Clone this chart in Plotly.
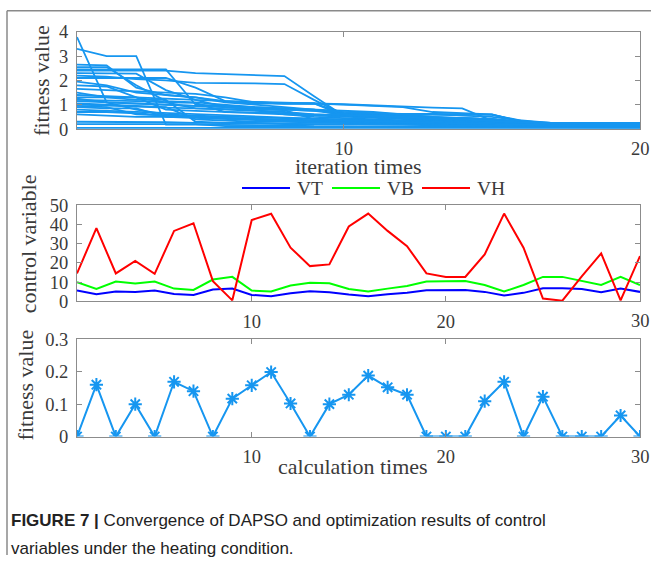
import plotly.graph_objects as go

W, H = 651, 565

# ---- convergence curves of the particle swarm (fitness vs. iteration) ----
iterations = list(range(1, 21))
swarm_curves = [
    [3.78, 1.10, 1.05, 1.00, 0.95, 0.90, 0.80, 0.60, 0.50, 0.45, 0.40, 0.35, 0.30, 0.30, 0.25, 0.20, 0.20, 0.15, 0.15, 0.15],
    [3.30, 3.00, 3.00, 0.18, 0.18, 0.18, 0.15, 0.15, 0.12, 0.12, 0.12, 0.10, 0.10, 0.10, 0.10, 0.10, 0.10, 0.10, 0.10, 0.10],
    [2.65, 2.62, 1.70, 1.40, 1.30, 1.10, 1.00, 0.90, 0.80, 0.65, 0.60, 0.55, 0.50, 0.45, 0.40, 0.30, 0.20, 0.18, 0.18, 0.18],
    [2.40, 2.40, 2.40, 2.40, 2.30, 2.25, 2.20, 2.18, 1.35, 0.55, 0.50, 0.45, 0.45, 0.45, 0.40, 0.30, 0.20, 0.20, 0.20, 0.20],
    [2.20, 2.15, 2.05, 2.00, 1.90, 1.90, 1.88, 1.85, 1.20, 0.60, 0.60, 0.60, 0.60, 0.60, 0.58, 0.35, 0.22, 0.22, 0.22, 0.22],
    [2.55, 2.55, 1.80, 1.15, 1.10, 1.00, 0.90, 0.85, 0.80, 0.75, 0.70, 0.60, 0.50, 0.45, 0.40, 0.30, 0.20, 0.15, 0.15, 0.15],
    [2.45, 2.45, 2.45, 2.45, 1.00, 0.95, 0.90, 0.85, 0.80, 0.55, 0.50, 0.45, 0.40, 0.35, 0.30, 0.25, 0.20, 0.15, 0.15, 0.15],
    [2.10, 2.10, 2.10, 2.10, 1.70, 1.15, 1.12, 1.10, 1.05, 1.02, 0.97, 0.90, 0.88, 0.85, 0.35, 0.30, 0.25, 0.20, 0.20, 0.20],
    [1.95, 1.80, 1.50, 1.40, 1.30, 1.15, 1.05, 1.05, 1.05, 1.00, 0.95, 0.90, 0.70, 0.65, 0.60, 0.30, 0.22, 0.20, 0.20, 0.20],
    [1.80, 1.75, 1.30, 1.10, 0.85, 0.80, 0.75, 0.70, 0.60, 0.55, 0.50, 0.50, 0.45, 0.45, 0.40, 0.30, 0.20, 0.12, 0.12, 0.12],
    [1.65, 1.60, 1.55, 1.50, 1.45, 1.30, 1.10, 1.05, 1.05, 0.65, 0.62, 0.62, 0.62, 0.62, 0.60, 0.30, 0.20, 0.20, 0.20, 0.20],
    [1.50, 1.30, 1.30, 0.80, 0.75, 0.70, 0.65, 0.60, 0.55, 0.50, 0.45, 0.40, 0.35, 0.30, 0.25, 0.20, 0.15, 0.12, 0.12, 0.12],
    [1.40, 1.35, 1.30, 1.25, 1.20, 0.90, 0.85, 0.80, 0.75, 0.60, 0.50, 0.45, 0.40, 0.35, 0.30, 0.25, 0.20, 0.15, 0.15, 0.15],
    [1.30, 1.30, 1.20, 1.20, 0.30, 0.25, 0.25, 0.20, 0.20, 0.20, 0.18, 0.18, 0.18, 0.15, 0.15, 0.15, 0.12, 0.12, 0.12, 0.12],
    [1.25, 1.10, 0.80, 0.60, 0.55, 0.50, 0.48, 0.45, 0.42, 0.40, 0.38, 0.35, 0.32, 0.30, 0.28, 0.25, 0.20, 0.18, 0.18, 0.18],
    [1.15, 1.10, 1.05, 1.00, 0.95, 0.90, 0.85, 0.80, 0.75, 0.70, 0.65, 0.60, 0.60, 0.55, 0.50, 0.35, 0.25, 0.15, 0.15, 0.15],
    [1.05, 1.00, 0.95, 0.90, 0.40, 0.35, 0.30, 0.30, 0.28, 0.25, 0.25, 0.22, 0.20, 0.20, 0.18, 0.15, 0.12, 0.10, 0.10, 0.10],
    [0.95, 0.90, 0.60, 0.55, 0.50, 0.45, 0.42, 0.40, 0.35, 0.32, 0.30, 0.28, 0.25, 0.25, 0.22, 0.20, 0.18, 0.15, 0.15, 0.15],
    [0.90, 0.85, 0.85, 0.50, 0.48, 0.45, 0.40, 0.35, 0.30, 0.28, 0.25, 0.25, 0.22, 0.20, 0.20, 0.18, 0.15, 0.12, 0.12, 0.12],
    [0.80, 0.75, 0.70, 0.65, 0.60, 0.55, 0.50, 0.45, 0.40, 0.38, 0.35, 0.32, 0.30, 0.28, 0.25, 0.22, 0.20, 0.18, 0.18, 0.18],
    [0.70, 0.70, 0.65, 0.55, 0.50, 0.45, 0.40, 0.38, 0.35, 0.30, 0.28, 0.25, 0.22, 0.20, 0.20, 0.18, 0.15, 0.15, 0.15, 0.15],
    [0.60, 0.55, 0.50, 0.50, 0.45, 0.40, 0.35, 0.30, 0.28, 0.25, 0.22, 0.20, 0.20, 0.18, 0.18, 0.15, 0.12, 0.10, 0.10, 0.10],
    [0.30, 0.30, 0.28, 0.28, 0.25, 0.25, 0.22, 0.22, 0.20, 0.20, 0.18, 0.18, 0.15, 0.15, 0.15, 0.12, 0.12, 0.10, 0.10, 0.10],
    [0.20, 0.20, 0.20, 0.20, 0.20, 0.12, 0.12, 0.10, 0.10, 0.10, 0.08, 0.08, 0.08, 0.08, 0.06, 0.06, 0.06, 0.06, 0.06, 0.06],
    [0.05, 0.05, 0.05, 0.05, 0.05, 0.05, 0.05, 0.05, 0.05, 0.05, 0.05, 0.05, 0.05, 0.05, 0.05, 0.05, 0.05, 0.05, 0.05, 0.05],
    [2.30, 2.30, 2.28, 1.60, 1.20, 1.15, 1.10, 1.05, 1.05, 0.55, 0.52, 0.50, 0.48, 0.45, 0.42, 0.30, 0.25, 0.25, 0.25, 0.25],
    [1.20, 1.18, 1.15, 1.10, 1.08, 0.70, 0.68, 0.65, 0.60, 0.58, 0.55, 0.50, 0.45, 0.40, 0.35, 0.28, 0.22, 0.22, 0.22, 0.22],
    [1.00, 0.95, 0.90, 0.88, 0.85, 0.82, 0.80, 0.78, 0.40, 0.35, 0.30, 0.28, 0.25, 0.22, 0.20, 0.18, 0.16, 0.14, 0.14, 0.14],
]

# ---- optimised control variables over the calculation runs ----
runs = list(range(1, 31))
VT = [5.6, 3.7, 5.1, 4.9, 5.6, 3.8, 3.3, 6.1, 6.6, 3.3, 2.6, 4.2, 5.2, 4.7, 3.5,
      2.6, 3.7, 4.5, 5.7, 5.9, 5.9, 4.9, 3.0, 4.4, 6.8, 6.8, 6.4, 4.7, 6.6, 4.9]
VB = [9.9, 6.4, 10.3, 9.2, 10.3, 6.6, 5.9, 11.3, 12.7, 5.6, 5.1, 8.2, 9.6, 9.4, 6.4,
      5.1, 6.6, 8.0, 10.3, 10.5, 10.5, 8.5, 5.1, 8.5, 12.7, 12.7, 10.5, 8.5, 12.7, 8.5]
VH = [14.5, 38.0, 14.5, 21.0, 14.3, 36.6, 40.6, 10.5, 0.5, 42.3, 45.5, 27.9, 18.3, 19.2, 38.9,
      45.6, 36.6, 28.7, 14.5, 12.7, 12.7, 24.4, 45.6, 27.9, 1.4, 0.3, 13.0, 24.9, 0.5, 23.5]

# ---- final fitness value of each calculation run ----
final_fitness = [0.0, 0.16, 0.0, 0.10, 0.0, 0.169, 0.14, 0.0, 0.117, 0.158, 0.199, 0.102, 0.0, 0.10, 0.129,
                 0.188, 0.152, 0.129, 0.0, 0.0, 0.0, 0.109, 0.169, 0.0, 0.123, 0.0, 0.0, 0.0, 0.065, 0.0]

iter_ticks = [10, 20]
run_ticks = [10, 20, 30]

SWARM_BLUE = "rgb(22,150,240)"
SERIF = "Liberation Serif, Times New Roman, serif"
INK = "#3a3a3a"
AXIS = "#8c8c8c"
TICK_SIZE = 18.5


def fx(px):
    """pixel column of the figure -> paper x"""
    return px / W


def fy(px):
    """pixel row of the figure (from the top) -> paper y"""
    return 1 - px / H


fig = go.Figure()

for curve in swarm_curves:
    fig.add_trace(go.Scatter(x=iterations, y=curve, mode="lines",
                             line=dict(color=SWARM_BLUE, width=1.8),
                             xaxis="x", yaxis="y", showlegend=False, hoverinfo="skip"))

for name, vals, col in (("VT", VT, "#0000ff"), ("VB", VB, "#00ff00"), ("VH", VH, "#ff0000")):
    fig.add_trace(go.Scatter(x=runs, y=vals, mode="lines", name=name,
                             line=dict(color=col, width=2),
                             xaxis="x2", yaxis="y2", showlegend=False))

fig.add_trace(go.Scatter(x=runs, y=final_fitness, mode="lines+markers",
                         line=dict(color=SWARM_BLUE, width=2),
                         marker=dict(symbol="asterisk-open", size=11,
                                     line=dict(color=SWARM_BLUE, width=2)),
                         xaxis="x3", yaxis="y3", showlegend=False))

x_dom = [fx(77), fx(640)]
common = dict(showgrid=False, zeroline=False, showline=True, linecolor=AXIS, linewidth=1,
              mirror="ticks", ticks="inside", ticklen=5, tickcolor=AXIS,
              tickfont=dict(family=SERIF, size=TICK_SIZE, color=INK))
xcommon = dict(common, ticklabelstandoff=3)
ycommon = dict(common, ticklabelstandoff=4)

# the last tick label of each x axis sits on the right border; it is written as an annotation
iter_text = [str(t) for t in iter_ticks[:-1]] + [""]
run_text = [str(t) for t in run_ticks[:-1]] + [""]

fig.update_layout(
    width=W, height=H, margin=dict(l=0, r=0, t=0, b=0),
    paper_bgcolor="white", plot_bgcolor="white",
    xaxis=dict(domain=x_dom, range=[1, 20], tickvals=iter_ticks, ticktext=iter_text, anchor="y", **xcommon),
    yaxis=dict(domain=[fy(123.4), fy(22.6)], range=[0, 4], tickvals=[0, 1, 2, 3, 4], anchor="x", **ycommon),
    xaxis2=dict(domain=x_dom, range=[1, 30], tickvals=run_ticks, ticktext=run_text, anchor="y2", **xcommon),
    yaxis2=dict(domain=[fy(302.0), fy(202.3)], range=[0, 50], tickvals=[0, 10, 20, 30, 40, 50], anchor="x2", **ycommon),
    xaxis3=dict(domain=x_dom, range=[1, 30], tickvals=run_ticks, ticktext=run_text, anchor="y3", **xcommon),
    yaxis3=dict(domain=[fy(442.2), fy(341.4)], range=[0, 0.3], tickvals=[0, 0.1, 0.2, 0.3], anchor="x3", **ycommon),
)

ann = []
for xref, tick, row in (("x", iter_ticks[-1], 144.1), ("x2", run_ticks[-1], 322.7), ("x3", run_ticks[-1], 462.9)):
    ann.append(dict(text=str(tick), x=tick, xref=xref, y=fy(row), yref="paper",
                    showarrow=False, xanchor="center", yanchor="middle", borderpad=0,
                    font=dict(family=SERIF, size=TICK_SIZE, color=INK)))

titles = [
    ("fitness value", 42, 73.5, -90),
    ("control variable", 28, 242.8, -90),
    ("fitness value", 25, 389.2, -90),
    ("iteration times", 358, 161.8, 0),
    ("calculation times", 353, 473.3, 0),
]
for text, x, y, ang in titles:
    ann.append(dict(text=text, x=fx(x), y=fy(y), xref="paper", yref="paper",
                    showarrow=False, textangle=ang, xanchor="center", yanchor="middle",
                    font=dict(family=SERIF, size=22, color=INK)))

# legend for the control variables
shapes = []
for name, col, x0 in (("VT", "#0000ff", 242), ("VB", "#00ff00", 332), ("VH", "#ff0000", 422)):
    shapes.append(dict(type="line", xref="paper", yref="paper",
                       x0=fx(x0), x1=fx(x0 + 48), y0=fy(184.6), y1=fy(184.6),
                       line=dict(color=col, width=2)))
    ann.append(dict(text=name, x=fx(x0 + 53), y=fy(184.6), xref="paper", yref="paper",
                    showarrow=False, xanchor="left", yanchor="middle",
                    font=dict(family=SERIF, size=19.5, color=INK)))

# frame edges (top and left)
shapes.append(dict(type="line", xref="paper", yref="paper", x0=fx(7), x1=1, y0=fy(0.75), y1=fy(0.75),
                   line=dict(color="#8a8a8a", width=1.5)))
shapes.append(dict(type="line", xref="paper", yref="paper", x0=fx(7), x1=fx(7), y0=fy(0.75), y1=0,
                   line=dict(color="#8a8a8a", width=1.5)))

CAP = "Liberation Sans, Arial, sans-serif"
ann.append(dict(text="<b>FIGURE 7 |</b> Convergence of DAPSO and optimization results of control",
                x=fx(8.8), y=fy(529.4), xref="paper", yref="paper", showarrow=False,
                xanchor="left", yanchor="middle", font=dict(family=CAP, size=17.0, color="#222222")))
ann.append(dict(text="variables under the heating condition.",
                x=fx(8.8), y=fy(558.5), xref="paper", yref="paper", showarrow=False,
                xanchor="left", yanchor="middle", font=dict(family=CAP, size=17.0, color="#222222")))

fig.update_layout(annotations=ann, shapes=shapes)
fig.write_html("out.html")
